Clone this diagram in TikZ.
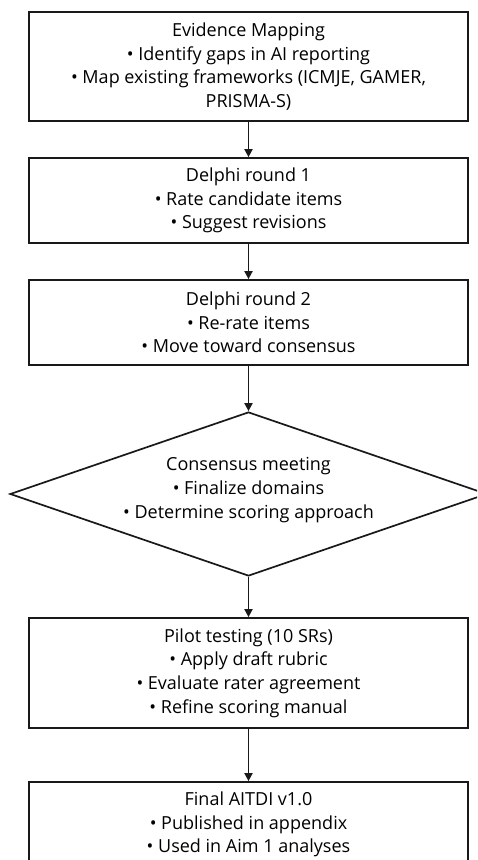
\documentclass[tikz,border=0pt]{standalone}
\usepackage{fontspec}
\setmainfont{Open Sans}
\usetikzlibrary{shapes.geometric,arrows.meta}
\begin{document}
\begin{tikzpicture}[x=1pt,y=-1pt,
  txt/.style={font=\fontsize{18}{23.7}\selectfont},
  box/.style={draw=black!90, line width=1.7pt, rectangle, minimum width=439pt, inner sep=0pt,
    align=center, txt},
  dia/.style={draw=black!90, line width=1.7pt, diamond, shape aspect=2.9, minimum width=477pt,
    minimum height=164pt, inner sep=0pt},
  conn/.style={line width=1.7pt, draw=black!90, -{Triangle[length=8pt,width=8pt]}}]
\useasboundingbox (0,0) rectangle (477,860);
\clip (0,0) rectangle (477,860);
\node[box, minimum height=109pt] (ev) at (248.5,66.5) {Evidence Mapping\\ • Identify gaps in AI reporting\\ • Map existing frameworks (ICMJE, GAMER,\\ PRISMA-S)};
\node[box, minimum height=85pt] (d1) at (248.5,200.5) {Delphi round 1\\ • Rate candidate items\\ • Suggest revisions};
\node[box, minimum height=85pt] (d2) at (248.5,322.5) {Delphi round 2\\ • Re-rate items\\ • Move toward consensus};
\node[dia] (cm) at (248.5,494) {};
\node[align=center, txt, inner sep=0pt] (cmt) at (248.5,490) {Consensus meeting\\ • Finalize domains\\ • Determine scoring approach};
\node[box, minimum height=110pt] (pt) at (248.5,673) {Pilot testing (10 SRs)\\ • Apply draft rubric\\ • Evaluate rater agreement\\ • Refine scoring manual};
\node[box, minimum height=85pt] (fa) at (248.5,824.5) {Final AITDI v1.0\\ • Published in appendix\\ • Used in Aim 1 analyses};
\draw[conn] (ev) -- (d1);
\draw[conn] (d1) -- (d2);
\draw[conn] (d2) -- (cm);
\draw[conn] (cm) -- (pt);
\draw[conn] (pt) -- (fa);
\end{tikzpicture}
\end{document}
